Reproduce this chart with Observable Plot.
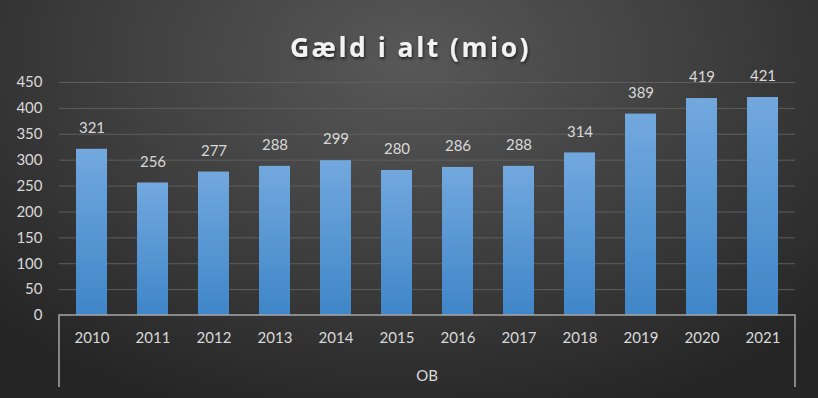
<!DOCTYPE html>
<html><head><meta charset="utf-8">
<script src="https://cdn.jsdelivr.net/npm/d3@7"></script>
<script src="https://cdn.jsdelivr.net/npm/@observablehq/plot@0.6"></script>
<style>
html,body{margin:0;padding:0;}
#wrap{width:818px;height:398px;background:radial-gradient(ellipse 70% 95% at 50% 15%, #585858 0%, #3d3d3d 55%, #252525 100%);}
svg{display:block;}
</style></head><body>
<div id="wrap"></div>
<script>
const years = ["2010","2011","2012","2013","2014","2015","2016","2017","2018","2019","2020","2021"];
const values = [321,256,277,288,299,280,286,288,314,389,419,421];
const yTicks = [0,50,100,150,200,250,300,350,400,450];
const title = "Gæld i alt (mio)";
const groupLabel = "OB";

const data = years.map((y,i)=>({year:y, value:values[i]}));
const font = "Lato, 'Open Sans', sans-serif";
const textColor = "#d9d9d9";

const chart = Plot.plot({
  width: 818, height: 398,
  marginLeft: 59, marginRight: 23, marginTop: 82, marginBottom: 83,
  style: {background: "transparent", color: textColor, fontFamily: font, fontSize: "15px"},
  x: {domain: years, paddingInner: 0.5, paddingOuter: 0.25, label: null, tickSize: 0, tickPadding: 17},
  y: {domain: [0,450], ticks: yTicks, label: null, tickSize: 0, tickPadding: 17},
  marks: [
    Plot.gridY(yTicks.slice(1), {stroke: "#5e5e5e", strokeOpacity: 1, strokeWidth: 1}),
    Plot.barY(data, {x: "year", y: "value", fill: "url(#barGrad)"}),
    Plot.text(data, {x: "year", y: "value", text: d => String(d.value), dy: -21, fill: textColor, fontSize: 15}),
    Plot.text([title], {frameAnchor: "top", dy: -44, dx: -17, text: d => d, fill: "#f2f2f2", fontSize: 26.5, fontWeight: "bold", fontFamily: "'Open Sans', sans-serif"})
  ]
});

const svg = d3.select(chart);
const defs = svg.insert("defs", ":first-child");
const g = defs.append("linearGradient").attr("id","barGrad").attr("x1",0).attr("y1",0).attr("x2",0).attr("y2",1);
g.append("stop").attr("offset","0%").attr("stop-color","#72a8de");
g.append("stop").attr("offset","100%").attr("stop-color","#3f86c8");
const f = defs.append("filter").attr("id","shadow").attr("x","-10%").attr("y","-30%").attr("width","120%").attr("height","160%");
f.append("feDropShadow").attr("dx",1).attr("dy",2).attr("stdDeviation",1.5).attr("flood-color","#000").attr("flood-opacity",0.6);
svg.selectAll("text").filter(function(){return this.textContent===title;}).attr("filter","url(#shadow)").style("letter-spacing","2.5px");

// group bracket and label using the chart's scales
const xs = chart.scale("x"), ys = chart.scale("y");
const x0 = xs.range[0], x1 = xs.range[1];
const y0 = ys.apply(0);
const br = svg.append("g").attr("stroke","#a6a6a6").attr("stroke-width",1.5).attr("fill","none");
br.append("path").attr("d",`M${x0},${y0+72}V${y0}H${x1}V${y0+72}`);
svg.append("text").attr("x",(x0+x1)/2).attr("y",y0+66).attr("text-anchor","middle")
  .attr("fill",textColor).attr("font-size",15).attr("font-family",font).text(groupLabel);

document.getElementById("wrap").appendChild(chart);
</script>
</body></html>
